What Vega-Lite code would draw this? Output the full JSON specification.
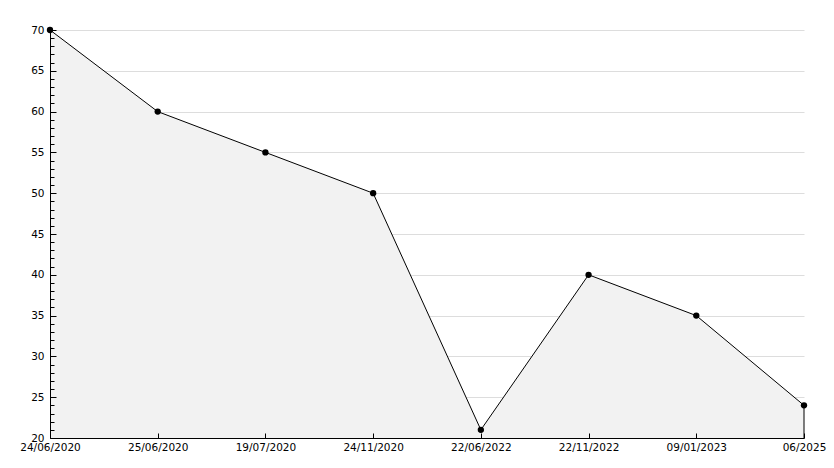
{
  "$schema": "https://vega.github.io/schema/vega-lite/v6.json",
  "autosize": {"type": "none"},
  "padding": {"left": 50, "top": 30, "right": 30, "bottom": 30},
  "width": 754,
  "height": 408,
  "background": "white",
  "config": {
    "view": {"stroke": null},
    "axis": {"labelFont": "DejaVu Sans", "labelFontSize": 10.5, "labelColor": "#000000", "domainColor": "#000000", "tickColor": "#000000", "title": null}
  },
  "data": {
    "values": [
      {"date": "24/06/2020", "value": 70},
      {"date": "25/06/2020", "value": 60},
      {"date": "19/07/2020", "value": 55},
      {"date": "24/11/2020", "value": 50},
      {"date": "22/06/2022", "value": 21},
      {"date": "22/11/2022", "value": 40},
      {"date": "09/01/2023", "value": 35},
      {"date": "06/2025", "value": 24}
    ]
  },
  "encoding": {
    "x": {
      "field": "date", "type": "ordinal", "sort": null,
      "scale": {"type": "point", "padding": 0},
      "axis": {"labelAngle": 0, "tickSize": -5, "labelPadding": 9, "grid": false, "domainWidth": 1, "labelOverlap": false, "zindex": 1}
    }
  },
  "layer": [
    {
      "mark": {"type": "area", "color": "#f2f2f2"},
      "encoding": {
        "y": {
          "field": "value", "type": "quantitative",
          "scale": {"domain": [20, 70], "nice": false, "zero": false},
          "axis": {
            "orient": "left",
            "values": [25, 30, 35, 40, 45, 50, 55, 60, 65, 70],
            "grid": true, "gridColor": "#dddddd",
            "labels": false, "ticks": false, "domain": false,
            "zindex": 0
          }
        },
        "y2": {"datum": 20}
      }
    },
    {
      "mark": {"type": "line", "color": "#000000", "strokeWidth": 1},
      "encoding": {
        "y": {
          "field": "value", "type": "quantitative",
          "scale": {"domain": [20, 70], "nice": false, "zero": false},
          "axis": {
            "orient": "left",
            "values": [20,21,22,23,24,25,26,27,28,29,30,31,32,33,34,35,36,37,38,39,40,41,42,43,44,45,46,47,48,49,50,51,52,53,54,55,56,57,58,59,60,61,62,63,64,65,66,67,68,69,70],
            "labelExpr": "datum.value % 5 === 0 ? datum.label : ''",
            "labelOverlap": false,
            "tickSize": {"condition": {"test": "datum.value % 5 === 0", "value": -6}, "value": -4},
            "labelPadding": 12,
            "grid": false,
            "zindex": 1
          }
        }
      }
    },
    {
      "transform": [{"filter": "datum.date === '06/2025'"}],
      "mark": {"type": "rule", "color": "#000000", "strokeWidth": 1},
      "encoding": {
        "y": {"field": "value", "type": "quantitative", "axis": null},
        "y2": {"datum": 20}
      }
    },
    {
      "mark": {"type": "point", "filled": true, "color": "#000000", "size": 40, "opacity": 1},
      "encoding": {"y": {"field": "value", "type": "quantitative", "axis": null}}
    }
  ],
  "resolve": {"axis": {"y": "independent"}}
}
